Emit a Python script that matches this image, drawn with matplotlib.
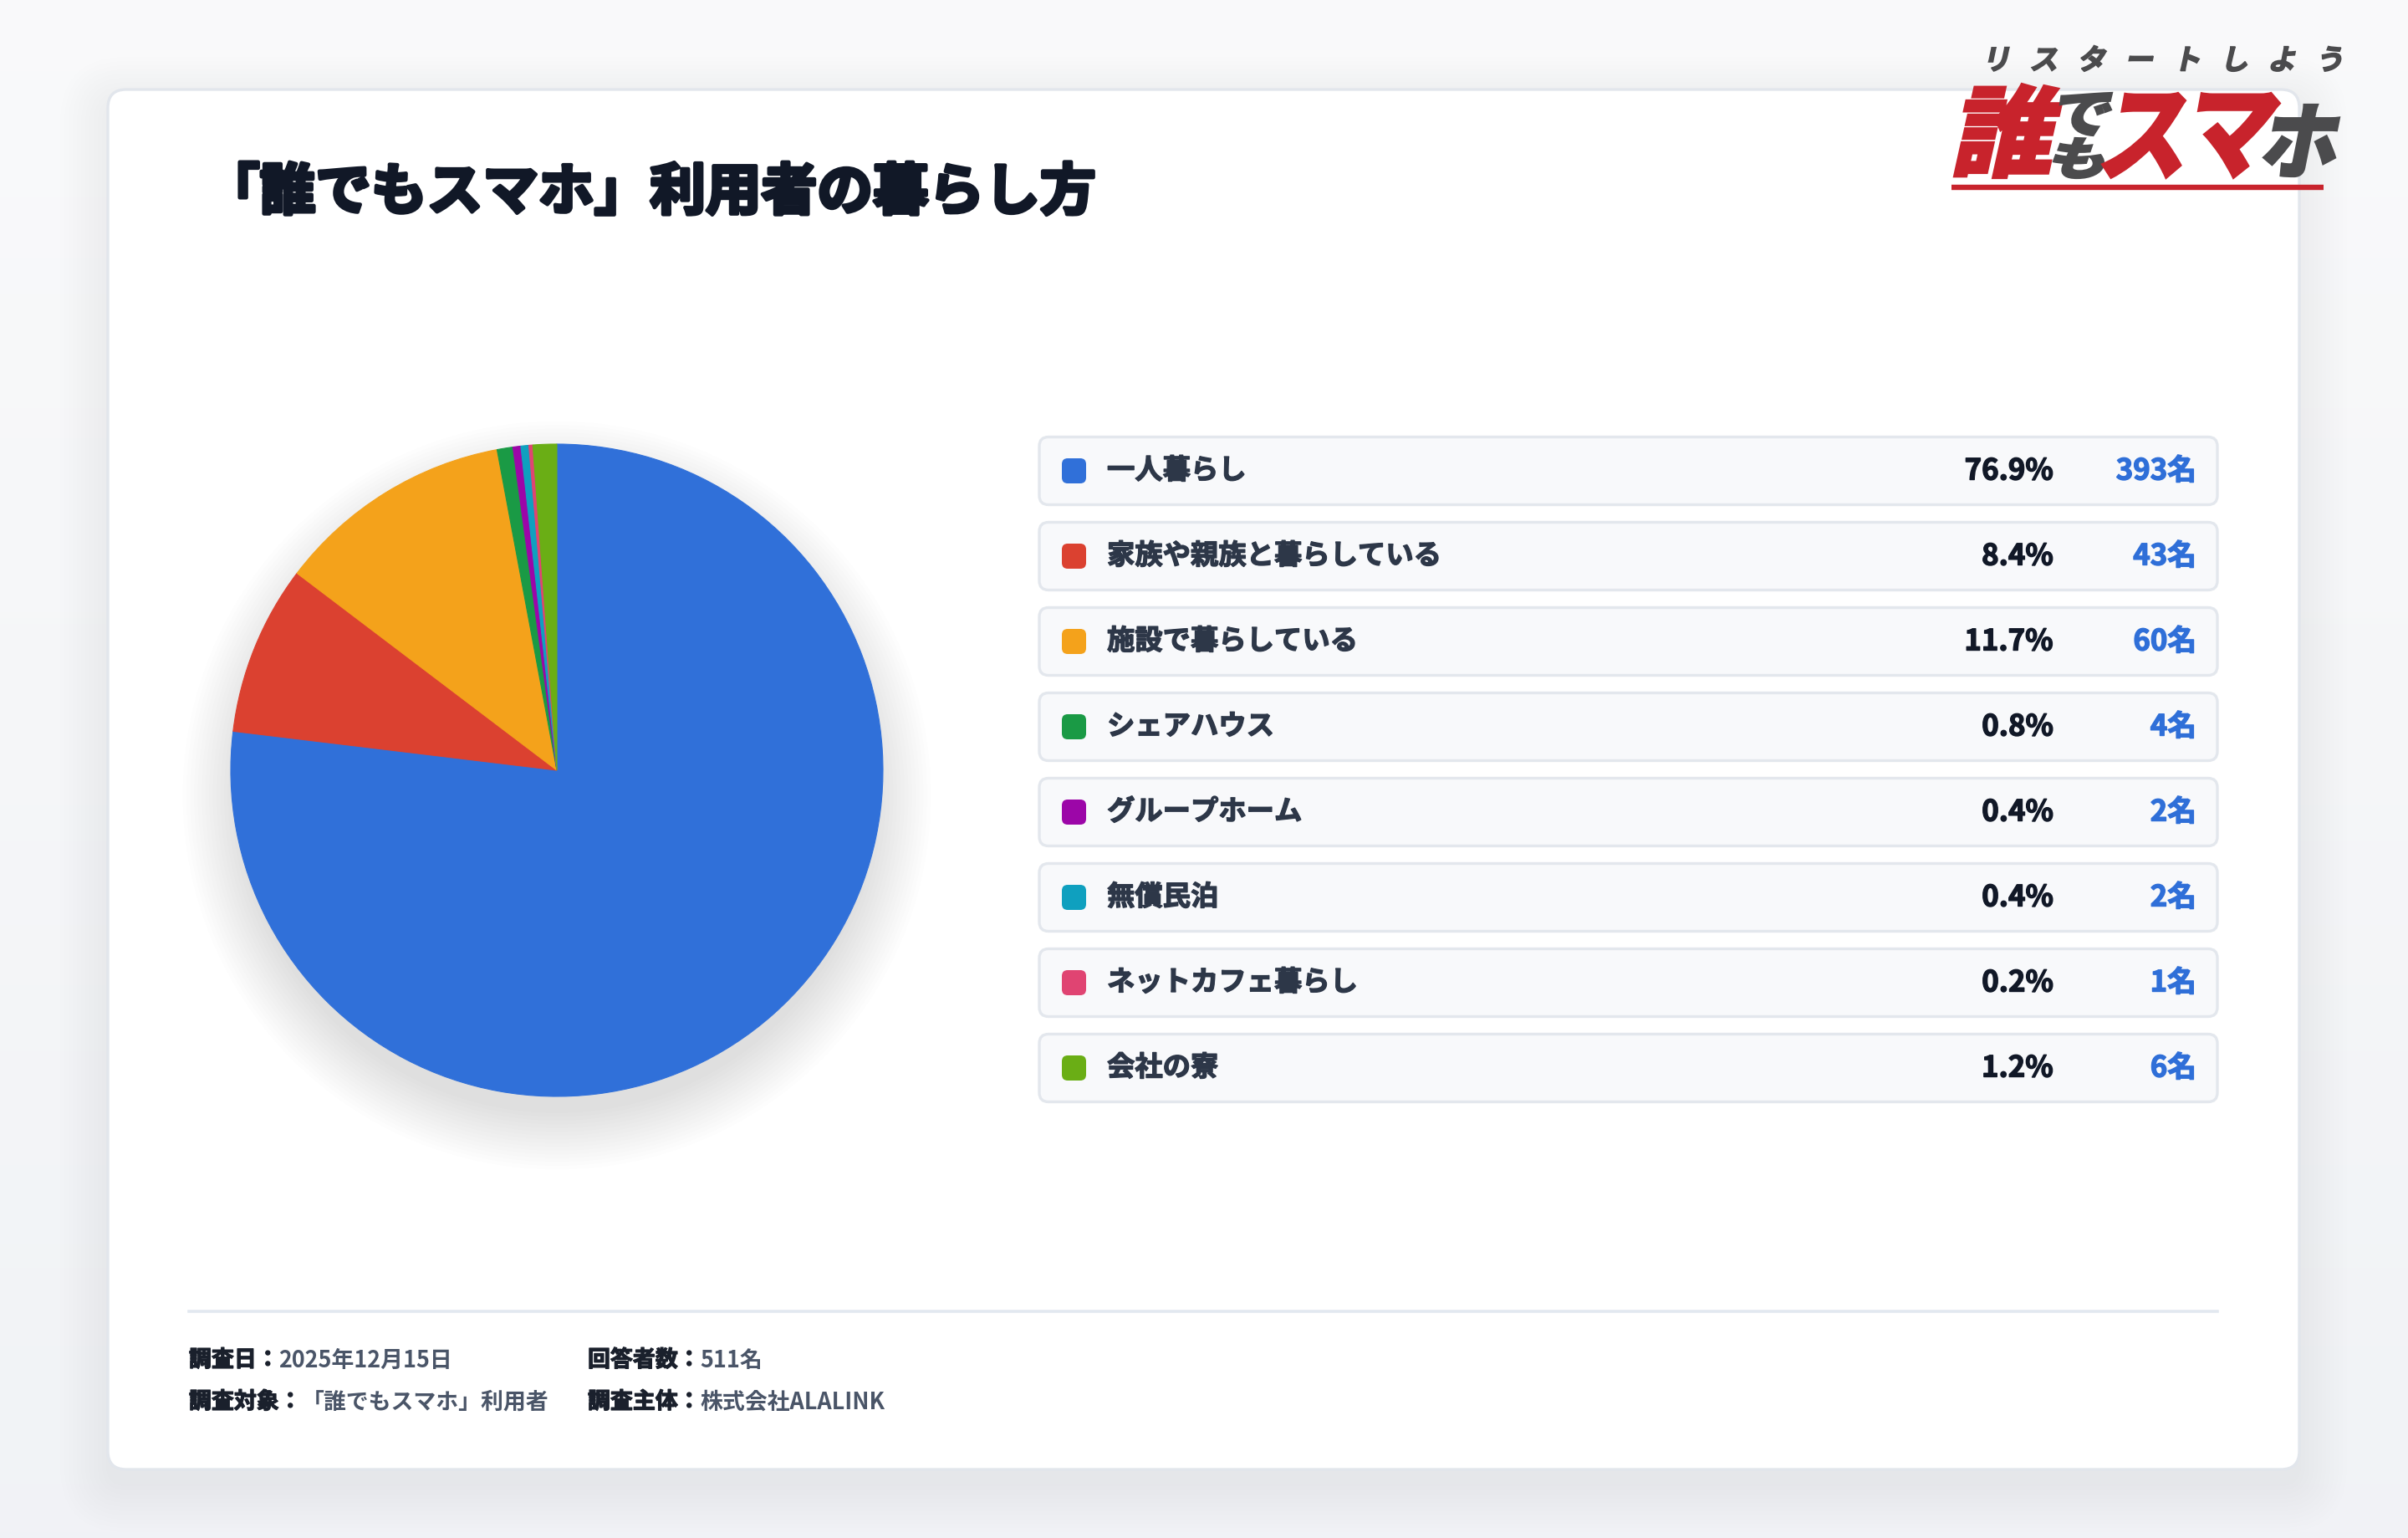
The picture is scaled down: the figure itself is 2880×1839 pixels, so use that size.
import matplotlib.pyplot as plt
import matplotlib.patheffects as pe
import numpy as np
from matplotlib.patches import FancyBboxPatch, Circle, PathPatch
from matplotlib.textpath import TextPath
from matplotlib.font_manager import FontProperties
from matplotlib.transforms import Affine2D

plt.rcParams['font.family'] = ['Noto Sans CJK JP', 'DejaVu Sans']

# data
labels = ['一人暮らし', '家族や親族と暮らしている', '施設で暮らしている', 'シェアハウス',
          'グループホーム', '無償民泊', 'ネットカフェ暮らし', '会社の寮']
counts = [393, 43, 60, 4, 2, 2, 1, 6]
percents = ['76.9%', '8.4%', '11.7%', '0.8%', '0.4%', '0.4%', '0.2%', '1.2%']
colors = ['#3070D9', '#DB4130', '#F4A21B', '#1A9A45', '#9C06A8', '#0FA0BF', '#E04472', '#6AAE15']

title = '「誰でもスマホ」利用者の暮らし方'
footer = [('調査日：', '2025年12月15日'), ('回答者数：', '511名'),
          ('調査対象：', '「誰でもスマホ」利用者'), ('調査主体：', '株式会社ALALINK')]

W, H = 2880, 1840
fig = plt.figure(figsize=(14.4, 9.2), dpi=200)
ax = fig.add_axes([0, 0, 1, 1])
ax.set_xlim(0, W)
ax.set_ylim(H, 0)
ax.axis('off')


def heavy(color, lw):
    # fake a heavier weight by stroking the glyph outline
    return [pe.withStroke(linewidth=lw, foreground=color)]


# page background gradient
grad = np.linspace(0, 1, 256)[:, None]
bg = np.array([0.978, 0.980, 0.984]) * (1 - grad[..., None]) + np.array([0.945, 0.952, 0.965]) * grad[..., None]
ax.imshow(np.repeat(bg, 2, axis=1), extent=[0, W, H, 0], aspect='auto', zorder=0)

# card + shadow
cx0, cy0, cx1, cy1 = 129, 108, 2750, 1758
for k in range(12):
    pad = 2 + k * 5
    ax.add_patch(FancyBboxPatch((cx0 - pad, cy0 - pad + 18), cx1 - cx0 + 2 * pad, cy1 - cy0 + 2 * pad,
                                boxstyle=f'round,pad=0,rounding_size={22 + pad}',
                                fc='#334155', ec='none', alpha=0.005, zorder=1))
ax.add_patch(FancyBboxPatch((cx0, cy0), cx1 - cx0, cy1 - cy0, boxstyle='round,pad=0,rounding_size=22',
                            fc='white', ec='#e2e6ec', lw=1.2, zorder=2))

# title
ax.text(244, 232, title, fontsize=24, fontweight='bold', color='#111827', va='center', ha='left',
        zorder=5, path_effects=heavy('#111827', 1.6))

# logo
logo_fp = FontProperties(family='Noto Sans CJK JP', weight='black')


def glyph(s, box, color, skew=12):
    p = TextPath((0, 0), s, size=100, prop=logo_fp)
    p = Affine2D().skew_deg(skew, 0).transform_path(p)
    e = p.get_extents()
    x0, y0, x1, y1 = box
    t = Affine2D().translate(-e.x0, -e.y0).scale((x1 - x0) / e.width, -(y1 - y0) / e.height).translate(x0, y1)
    ax.add_patch(PathPatch(t.transform_path(p), fc=color, ec=color, lw=0.8, zorder=6))


red, dark = '#C8232C', '#4b4b4d'
glyph('誰', (2337, 101, 2466, 214), red)
glyph('で', (2464, 112, 2526, 163), dark)
glyph('も', (2456, 166, 2516, 214), dark)
glyph('ス', (2514, 112, 2614, 214), red)
glyph('マ', (2629, 112, 2727, 214), red)
glyph('ホ', (2707, 126, 2798, 212), dark)
ax.plot([2334, 2779], [225, 225], color=red, lw=2.3, solid_capstyle='butt', zorder=6)

sub_fp = FontProperties(family='Noto Sans CJK JP', weight='bold')
for i, ch in enumerate('リスタートしよう'):
    p = TextPath((0, 0), ch, size=100, prop=sub_fp)
    p = Affine2D().skew_deg(12, 0).transform_path(p)
    t = Affine2D().scale(0.34, -0.34).translate(2370 + i * 57, 84)
    ax.add_patch(PathPatch(t.transform_path(p), fc=dark, ec=dark, lw=0.6, zorder=6))

# legend rows
rx0, rx1, rh = 1243, 2652, 81
for i, (lab, n, pc, c) in enumerate(zip(labels, counts, percents, colors)):
    yc = 564 + i * 102
    ax.add_patch(FancyBboxPatch((rx0, yc - rh / 2), rx1 - rx0, rh, boxstyle='round,pad=0,rounding_size=11',
                                fc='#f8f9fb', ec='#e3e7ed', lw=1.2, zorder=3))
    ax.add_patch(FancyBboxPatch((1270, yc - 15), 29, 30, boxstyle='round,pad=0,rounding_size=7',
                                fc=c, ec='none', zorder=4))
    ax.text(1324, yc, lab, fontsize=12, fontweight='bold', color='#2d3748', va='center', ha='left',
            zorder=5, path_effects=heavy('#2d3748', 0.5))
    ax.text(2456, yc, pc, fontsize=12.5, fontweight='bold', color='#111827', va='center', ha='right',
            zorder=5, path_effects=heavy('#111827', 0.5))
    ax.text(2627, yc, f'{n}名', fontsize=12.5, fontweight='bold', color='#2f6fd8', va='center', ha='right',
            zorder=5, path_effects=heavy('#2f6fd8', 0.5))

# footer
ax.plot([226, 2652], [1569, 1569], color='#e2e8f0', lw=1.3, zorder=4)
fpos = [(226, 1627), (703, 1627), (226, 1677), (703, 1677)]
for (lab, val), (x, y) in zip(footer, fpos):
    t = ax.text(x, y, lab, fontsize=9.7, fontweight='bold', color='#1a202c', va='center', ha='left',
                zorder=5, path_effects=heavy('#1a202c', 0.45))
    ax.annotate(val, xy=(1, 0), xycoords=t, va='bottom', ha='left', fontsize=9.7,
                fontweight='bold', color='#4a5568', zorder=5)

# pie
pcx, pcy, r = 666, 922, 390
half = 520
pax = fig.add_axes([(pcx - half) / W, 1 - (pcy + half) / H, 2 * half / W, 2 * half / H])
for k in range(16):
    pax.add_patch(Circle((0, -30), r - 10 + k * 4.5, fc='#1e293b', ec='none', alpha=0.007, zorder=0))
pax.pie(counts, colors=colors, startangle=90, counterclock=False, radius=r,
        wedgeprops=dict(linewidth=0.4, edgecolor='none', antialiased=True))
for w, c in zip(pax.patches[16:], colors):
    w.set_edgecolor(c)
pax.set_xlim(-half, half)
pax.set_ylim(-half, half)
pax.set_aspect('equal')
pax.axis('off')

fig.savefig('out.png', dpi=200)
